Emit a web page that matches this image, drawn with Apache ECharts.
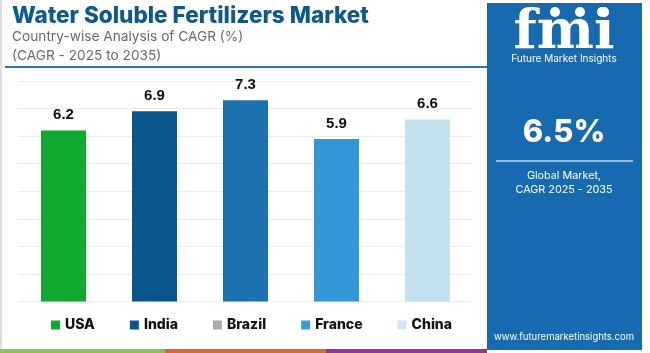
<!DOCTYPE html>
<html><head><meta charset="utf-8">
<script src="https://cdn.jsdelivr.net/npm/echarts@6/dist/echarts.min.js"></script>
<style>html,body{margin:0;padding:0;background:#fff}#c{width:650px;height:353px}</style>
</head><body><div id="c"></div>
<script>
var countries = ['USA', 'India', 'Brazil', 'France', 'China'];
var cagr = [6.2, 6.9, 7.3, 5.9, 6.6];
var barColors = ['#0ea92f', '#08568b', '#1b72ae', '#3396d6', '#c4e1f1'];
var legendColors = ['#0ea92f', '#08568b', '#a9a9a9', '#3a9bdb', '#cfe5f2'];
var yTicks = [0, 1, 2, 3, 4, 5, 6, 7, 8];

var chart = echarts.init(document.getElementById('c'), null, {renderer: 'canvas'});
var series = countries.map(function (name, i) {
  return {
    name: name, type: 'bar', stack: 'all', barWidth: 45,
    itemStyle: {color: legendColors[i]},
    data: countries.map(function (c, j) {
      return j === i ? {value: cagr[j], itemStyle: {color: barColors[j]}} : null;
    }),
    label: {show: true, position: 'top', distance: 8, color: '#111',
      fontFamily: 'Liberation Sans', fontWeight: 'bold', fontSize: 15,
      formatter: function (p) { return p.value.toFixed(1); }}
  };
});
chart.setOption({
  animation: false,
  grid: {left: 18, right: 177, top: 81, bottom: 51.5},
  xAxis: {type: 'category', data: countries, axisLine: {show: false}, axisTick: {show: false}, axisLabel: {show: false}},
  yAxis: {type: 'value', min: yTicks[0], max: yTicks[yTicks.length - 1], interval: 1,
    axisLabel: {show: false}, axisLine: {show: false}, axisTick: {show: false},
    splitLine: {lineStyle: {color: '#ececec', width: 1}}},
  legend: {
    left: 46, top: 313, itemWidth: 9, itemHeight: 9, itemGap: 35, icon: 'rect',
    textStyle: {fontFamily: 'Inter', fontWeight: 800, fontSize: 14, color: '#111'},
    data: countries.map(function (c, i) { return {name: c, itemStyle: {color: legendColors[i]}}; })
  },
  series: series,
  graphic: [
    {type: 'rect', shape: {x: 0, y: 0, width: 2, height: 353}, style: {fill: '#dcdcdc'}},
    {type: 'text', left: 12, top: 5, style: {text: 'Water Soluble Fertilizers Market', fontFamily: 'Inter', fontWeight: 800, fontSize: 22.5, fill: '#0c5a8d'}},
    {type: 'text', left: 12, top: 30, style: {text: 'Country-wise Analysis of CAGR (%)', fontFamily: 'Inter', fontSize: 13.7, fill: '#6a6a6a'}},
    {type: 'text', left: 12, top: 49, style: {text: '(CAGR - 2025 to 2035)', fontFamily: 'Inter', fontSize: 13.7, fill: '#6a6a6a'}},
    {type: 'rect', shape: {x: 5, y: 66, width: 482, height: 2}, style: {fill: '#2b78ae'}},
    {type: 'rect', shape: {x: 0, y: 349, width: 165, height: 4}, style: {fill: '#8fc152'}},
    {type: 'rect', shape: {x: 165, y: 349, width: 161, height: 4}, style: {fill: '#e06535'}},
    {type: 'rect', shape: {x: 326, y: 349, width: 161, height: 4}, style: {fill: '#8c3a8c'}},
    {type: 'rect', shape: {x: 487, y: 3, width: 155, height: 347}, style: {fill: '#176ab0'}},
    {type: 'text', x: 564, y: 34, style: {text: 'fmi', fontFamily: 'DejaVu Serif', fontWeight: 'bold', fontSize: 54, fill: '#fff', align: 'center', verticalAlign: 'middle'}},
    {type: 'circle', shape: {cx: 555, cy: 12, r: 5}, style: {fill: '#fff'}},
    {type: 'circle', shape: {cx: 580, cy: 12, r: 5}, style: {fill: '#fff'}},
    {type: 'circle', shape: {cx: 602, cy: 12, r: 5}, style: {fill: '#fff'}},
    {type: 'text', x: 564, y: 59, style: {text: 'Future Market Insights', fontFamily: 'Inter', fontSize: 10, fill: '#fff', align: 'center', verticalAlign: 'middle'}},
    {type: 'text', x: 564, y: 133, style: {text: '6.5%', fontFamily: 'Inter', fontWeight: 800, fontSize: 31, fill: '#fff', align: 'center', verticalAlign: 'middle'}},
    {type: 'rect', shape: {x: 496, y: 160, width: 137, height: 2}, style: {fill: '#8ec0e6'}},
    {type: 'text', x: 564, y: 176, style: {text: 'Global Market,', fontFamily: 'Inter', fontSize: 10.8, fill: '#fff', align: 'center', verticalAlign: 'middle'}},
    {type: 'text', x: 564, y: 190, style: {text: 'CAGR 2025 - 2035', fontFamily: 'Inter', fontSize: 10.8, fill: '#fff', align: 'center', verticalAlign: 'middle'}},
    {type: 'text', x: 564, y: 337, style: {text: 'www.futuremarketinsights.com', fontFamily: 'Inter', fontSize: 9.5, fill: '#fff', align: 'center', verticalAlign: 'middle'}}
  ]
});
</script></body></html>
